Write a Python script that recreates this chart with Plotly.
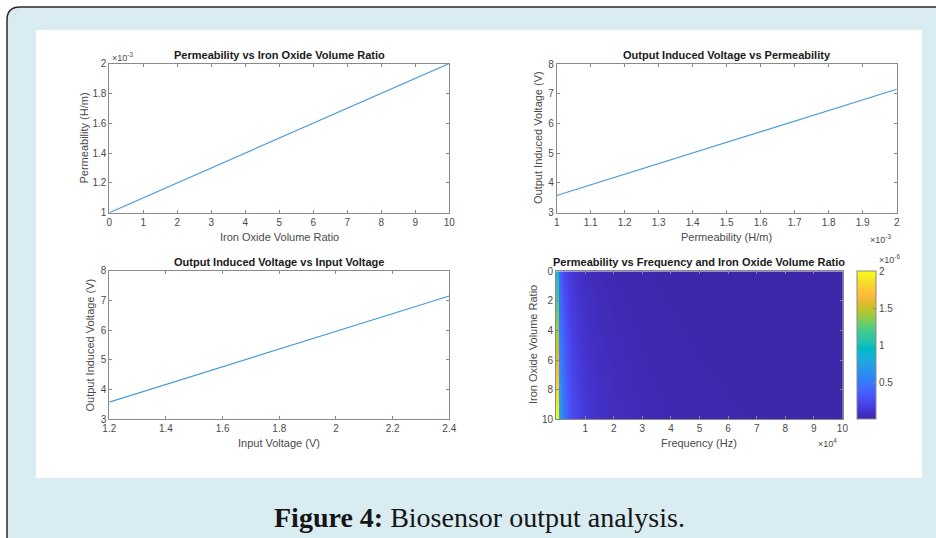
import plotly.graph_objects as go

# ---------------- data ----------------
# Plot 1: Permeability vs Iron Oxide Volume Ratio
ratio_line = [0, 2, 4, 6, 8, 10]
perm_line = [1.0e-3, 1.2e-3, 1.4e-3, 1.6e-3, 1.8e-3, 2.0e-3]

# Plot 2: Output Induced Voltage vs Permeability
perm_v = [1.0e-3, 1.25e-3, 1.5e-3, 1.75e-3, 2.0e-3]
vout_perm = [3.58, 4.47, 5.37, 6.26, 7.15]

# Plot 3: Output Induced Voltage vs Input Voltage
vin = [1.2, 1.5, 1.8, 2.1, 2.4]
vout_vin = [3.58, 4.47, 5.37, 6.26, 7.15]

# Plot 4: Permeability vs Frequency and Iron Oxide Volume Ratio
hm_freq = [0, 800, 1000, 2000, 3000, 5000, 7500, 10000, 15000, 20000,
           30000, 40000, 50000, 70000, 100000]
hm_ratio = [0, 1, 2, 3, 4, 5, 6, 7, 8, 9, 10]
static_perm = [1.0e-6, 1.1e-6, 1.2e-6, 1.3e-6, 1.4e-6, 1.5e-6,
               1.6e-6, 1.7e-6, 1.8e-6, 1.9e-6, 2.0e-6]
freq_factor = [1.0, 1.0, 0.4, 0.3, 0.22, 0.14, 0.1, 0.075, 0.05, 0.037,
               0.025, 0.019, 0.015, 0.011, 0.008]

# tick labels
ratio_ticks = [0, 1, 2, 3, 4, 5, 6, 7, 8, 9, 10]
perm_ticks_y = [1.0e-3, 1.2e-3, 1.4e-3, 1.6e-3, 1.8e-3, 2.0e-3]
perm_ticks_y_text = ["1", "1.2", "1.4", "1.6", "1.8", "2"]
perm_ticks_x = [1.0e-3, 1.1e-3, 1.2e-3, 1.3e-3, 1.4e-3, 1.5e-3,
                1.6e-3, 1.7e-3, 1.8e-3, 1.9e-3, 2.0e-3]
perm_ticks_x_text = ["1", "1.1", "1.2", "1.3", "1.4", "1.5",
                     "1.6", "1.7", "1.8", "1.9", "2"]
volt_ticks = [3, 4, 5, 6, 7, 8]
vin_ticks = [1.2, 1.4, 1.6, 1.8, 2.0, 2.2, 2.4]
vin_ticks_text = ["1.2", "1.4", "1.6", "1.8", "2", "2.2", "2.4"]
freq_ticks = [1e4, 2e4, 3e4, 4e4, 5e4, 6e4, 7e4, 8e4, 9e4, 1e5]
freq_ticks_text = ["1", "2", "3", "4", "5", "6", "7", "8", "9", "10"]
hm_ratio_ticks = [0, 2, 4, 6, 8, 10]
cb_ticks = [0.5e-6, 1.0e-6, 1.5e-6, 2.0e-6]
cb_ticks_text = ["0.5", "1", "1.5", "2"]

z = [[s * g for g in freq_factor] for s in static_perm]

# ---------------- style ----------------
W, H = 936, 538
def px(x):
    return x / W
def py(y):
    return 1 - y / H

parula = [
    (0.2422, 0.1504, 0.6603), (0.2504, 0.1650, 0.7076), (0.2578, 0.1818, 0.7511),
    (0.2647, 0.1978, 0.7952), (0.2706, 0.2147, 0.8364), (0.2751, 0.2342, 0.8710),
    (0.2783, 0.2559, 0.8991), (0.2803, 0.2782, 0.9221), (0.2813, 0.3006, 0.9414),
    (0.2810, 0.3228, 0.9579), (0.2795, 0.3447, 0.9717), (0.2760, 0.3667, 0.9829),
    (0.2699, 0.3892, 0.9906), (0.2602, 0.4123, 0.9952), (0.2440, 0.4358, 0.9988),
    (0.2206, 0.4603, 0.9973), (0.1963, 0.4847, 0.9892), (0.1834, 0.5074, 0.9798),
    (0.1786, 0.5289, 0.9682), (0.1764, 0.5499, 0.9520), (0.1687, 0.5703, 0.9359),
    (0.1540, 0.5902, 0.9218), (0.1460, 0.6091, 0.9079), (0.1380, 0.6276, 0.8973),
    (0.1248, 0.6459, 0.8883), (0.1113, 0.6635, 0.8763), (0.0952, 0.6798, 0.8598),
    (0.0689, 0.6948, 0.8394), (0.0297, 0.7082, 0.8163), (0.0036, 0.7203, 0.7917),
    (0.0067, 0.7312, 0.7660), (0.0433, 0.7411, 0.7394), (0.0964, 0.7500, 0.7120),
    (0.1408, 0.7584, 0.6842), (0.1717, 0.7670, 0.6554), (0.1938, 0.7758, 0.6251),
    (0.2161, 0.7843, 0.5923), (0.2470, 0.7918, 0.5567), (0.2906, 0.7973, 0.5188),
    (0.3406, 0.8008, 0.4789), (0.3909, 0.8029, 0.4354), (0.4456, 0.8024, 0.3909),
    (0.5044, 0.7993, 0.3480), (0.5616, 0.7942, 0.3045), (0.6174, 0.7876, 0.2612),
    (0.6720, 0.7793, 0.2227), (0.7242, 0.7698, 0.1910), (0.7738, 0.7598, 0.1646),
    (0.8203, 0.7498, 0.1535), (0.8634, 0.7406, 0.1596), (0.9035, 0.7330, 0.1774),
    (0.9393, 0.7288, 0.2100), (0.9728, 0.7298, 0.2394), (0.9956, 0.7434, 0.2371),
    (0.9970, 0.7659, 0.2199), (0.9952, 0.7893, 0.2028), (0.9892, 0.8136, 0.1885),
    (0.9786, 0.8386, 0.1766), (0.9676, 0.8639, 0.1643), (0.9610, 0.8890, 0.1537),
    (0.9597, 0.9135, 0.1423), (0.9628, 0.9373, 0.1265), (0.9691, 0.9606, 0.1064),
    (0.9769, 0.9839, 0.0805)]
n = len(parula)
colorscale = [[i / (n - 1), "rgb(%d,%d,%d)" % tuple(round(c * 255) for c in parula[i])]
              for i in range(n)]

FONT = "Liberation Sans, Arial, sans-serif"
LINE_COLOR = "#4a9ad8"
AX_COL = "#8a8a8a"
TXT_COL = "#4a4a4a"
TICK_SIZE = 10

def ax(domain, **kw):
    d = dict(domain=domain, showline=True, linecolor=AX_COL, linewidth=1,
             mirror="allticks", ticks="inside", ticklen=3, tickcolor=AX_COL,
             showgrid=False, zeroline=False, automargin=False,
             tickfont=dict(family=FONT, size=TICK_SIZE, color=TXT_COL))
    d.update(kw)
    return d

fig = go.Figure()

fig.add_trace(go.Scatter(x=ratio_line, y=perm_line, mode="lines",
                         line=dict(color=LINE_COLOR, width=1.2),
                         xaxis="x", yaxis="y", showlegend=False))
fig.add_trace(go.Scatter(x=perm_v, y=vout_perm, mode="lines",
                         line=dict(color=LINE_COLOR, width=1.2),
                         xaxis="x2", yaxis="y2", showlegend=False))
fig.add_trace(go.Scatter(x=vin, y=vout_vin, mode="lines",
                         line=dict(color=LINE_COLOR, width=1.2),
                         xaxis="x3", yaxis="y3", showlegend=False))
fig.add_trace(go.Heatmap(
    x=hm_freq, y=hm_ratio, z=z, zsmooth="best",
    colorscale=colorscale, zmin=0.012e-6, zmax=2.0e-6,
    xaxis="x4", yaxis="y4",
    colorbar=dict(x=px(857.3), xanchor="left", xpad=0,
                  y=py(419.3), yanchor="bottom", ypad=0,
                  len=148, lenmode="pixels",
                  thickness=18.5, thicknessmode="pixels",
                  outlinecolor=AX_COL, outlinewidth=1,
                  ticks="inside", ticklen=3, tickcolor=AX_COL,
                  tickvals=cb_ticks, ticktext=cb_ticks_text,
                  tickfont=dict(family=FONT, size=TICK_SIZE, color=TXT_COL))))

d1x = [px(109.3), px(449.3)]
d1y = [py(212.7), py(63.5)]
d2x = [px(556.7), px(896.7)]
d2y = [py(212.7), py(64.0)]
d3x = [px(109.3), px(449.3)]
d3y = [py(419.3), py(270.7)]
d4x = [px(556.0), px(842.7)]
d4y = [py(419.3), py(271.3)]

fig.update_layout(
    width=W, height=H,
    margin=dict(l=0, r=0, t=0, b=0, pad=0, autoexpand=False),
    paper_bgcolor="white", plot_bgcolor="white",
    font=dict(family=FONT, color=TXT_COL),
    showlegend=False,
    xaxis=ax(d1x, anchor="y", range=[0, 10], tickvals=ratio_ticks),
    yaxis=ax(d1y, anchor="x", range=[1.0e-3, 2.0e-3],
             tickvals=perm_ticks_y, ticktext=perm_ticks_y_text),
    xaxis2=ax(d2x, anchor="y2", range=[1.0e-3, 2.0e-3],
              tickvals=perm_ticks_x, ticktext=perm_ticks_x_text),
    yaxis2=ax(d2y, anchor="x2", range=[3, 8], tickvals=volt_ticks),
    xaxis3=ax(d3x, anchor="y3", range=[1.2, 2.4],
              tickvals=vin_ticks, ticktext=vin_ticks_text),
    yaxis3=ax(d3y, anchor="x3", range=[3, 8], tickvals=volt_ticks),
    xaxis4=ax(d4x, anchor="y4", range=[-200, 100100],
              tickvals=freq_ticks, ticktext=freq_ticks_text),
    yaxis4=ax(d4y, anchor="x4", range=[10, 0], tickvals=hm_ratio_ticks),
)

# background: light-blue rounded frame and white panel
def P(x, y):
    return "%f,%f" % (px(x), py(y))

frame_path = ("M " + P(7, 560) + " L " + P(7, 20) + " Q " + P(7, 7) + " " + P(20, 7)
              + " L " + P(960, 7) + " L " + P(960, 560) + " Z")
fig.add_shape(type="path", path=frame_path, xref="paper", yref="paper",
              fillcolor="#d8ecf1", line=dict(color="#2a2a2a", width=1.5),
              layer="below")
fig.add_shape(type="rect", xref="paper", yref="paper",
              x0=px(36), x1=px(922), y0=py(478), y1=py(30),
              fillcolor="white", line=dict(width=0), layer="below")

ann = []
def text(x, y, s, size=11, bold=False, angle=0, color=TXT_COL, xanchor="center",
         family=FONT):
    if bold:
        s = "<b>" + s + "</b>"
    ann.append(dict(x=px(x), y=py(y), xref="paper", yref="paper", text=s,
                    showarrow=False, textangle=angle, xanchor=xanchor,
                    yanchor="middle",
                    font=dict(family=family, size=size, color=color)))

# titles
TC = "#1a1a1a"
text(279.3, 55, "Permeability vs Iron Oxide Volume Ratio", size=11, bold=True, color=TC)
text(726.7, 55, "Output Induced Voltage vs Permeability", size=11, bold=True, color=TC)
text(279.3, 262, "Output Induced Voltage vs Input Voltage", size=11, bold=True, color=TC)
text(699.3, 262, "Permeability vs Frequency and Iron Oxide Volume Ratio", size=11, bold=True, color=TC)

# axis titles
text(279.3, 236.5, "Iron Oxide Volume Ratio")
text(83.5, 138, "Permeability (H/m)", angle=-90)
text(726.7, 236.5, "Permeability (H/m)")
text(538, 138, "Output Induced Voltage (V)", angle=-90)
text(279.3, 442.5, "Input Voltage (V)")
text(89.5, 345, "Output Induced Voltage (V)", angle=-90)
text(699.3, 442.5, "Frequency (Hz)")
text(533, 345, "Iron Oxide Volume Ratio", angle=-90)

# exponent labels
text(110, 57, "×10<sup>-3</sup>", size=9, xanchor="left")
text(868, 239, "×10<sup>-3</sup>", size=9, xanchor="left")
text(816, 443, "×10<sup>4</sup>", size=9, xanchor="left")
text(877, 259, "×10<sup>-6</sup>", size=9, xanchor="left")

# caption
text(480, 517, "<b>Figure 4:</b> Biosensor output analysis.", size=28, color="#151515",
     family="Liberation Serif, Times New Roman, serif")

fig.update_layout(annotations=ann)

fig.write_html("out.html", config={"displayModeBar": False},
               post_script="document.body.style.margin='0px';"
                           "document.body.style.padding='0px';"
                           "document.body.style.overflow='hidden';")
